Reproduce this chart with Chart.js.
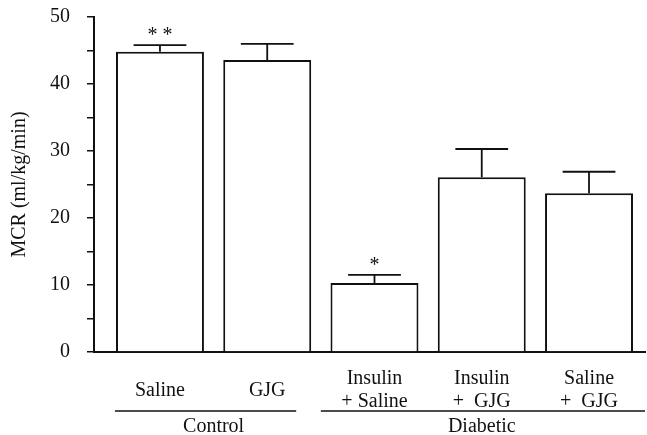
<!DOCTYPE html>
<html>
<head>
<meta charset="utf-8">
<script src="https://cdn.jsdelivr.net/npm/chart.js@4.4.0/dist/chart.umd.min.js"></script>
<style>
  html, body { margin: 0; padding: 0; background: #fff; }
</style>
</head>
<body>
<canvas id="mcrChart" width="647" height="435"></canvas>
<script>
// values
const labels = [['Saline'], ['GJG'], ['Insulin', '+ Saline'], ['Insulin', '+  GJG'], ['Saline', '+  GJG']];
const mcr = [44.8, 43.6, 10.3, 26.1, 23.7];
const sem = [1.0, 2.4, 1.2, 4.2, 3.2];
const marks = ['* *', '', '*', '', ''];
const groups = ['Control', 'Diabetic'];
const groupRanges = [[0, 1], [2, 4]];
const yLabels = [0, 10, 20, 30, 40, 50];

const ink = '#111';
const serif = '"Liberation Serif", "Times New Roman", serif';
Chart.defaults.font.family = serif;
Chart.defaults.font.size = 20;
Chart.defaults.color = ink;

const errorBars = {
  id: 'errorBars',
  afterDatasetsDraw(chart) {
    const { ctx, scales: { y } } = chart;
    const bars = chart.getDatasetMeta(0).data;
    ctx.save();
    ctx.strokeStyle = ink;
    ctx.fillStyle = ink;
    ctx.lineWidth = 1.8;
    ctx.font = '20px ' + serif;
    ctx.textAlign = 'center';
    ctx.textBaseline = 'alphabetic';
    bars.forEach((bar, i) => {
      const top = y.getPixelForValue(mcr[i] + sem[i]);
      const cap = bar.width * 0.3;
      ctx.beginPath();
      ctx.moveTo(bar.x, bar.y);
      ctx.lineTo(bar.x, top);
      ctx.moveTo(bar.x - cap, top);
      ctx.lineTo(bar.x + cap, top);
      ctx.stroke();
      if (marks[i]) ctx.fillText(marks[i], bar.x, top - 4);
    });
    ctx.restore();
  }
};

// group lines + names under the tick labels
const groupAxis = {
  id: 'groupAxis',
  afterDraw(chart) {
    const { ctx, scales: { x }, chartArea } = chart;
    const w = x.getPixelForValue(1) - x.getPixelForValue(0);
    const ext = [[-0.42, 0.27], [-0.5, 0.55]];
    ctx.save();
    ctx.strokeStyle = ink;
    ctx.fillStyle = ink;
    ctx.lineWidth = 1.5;
    ctx.font = '20px ' + serif;
    ctx.textAlign = 'center';
    ctx.textBaseline = 'middle';
    groups.forEach((name, g) => {
      const a = x.getPixelForValue(groupRanges[g][0]);
      const b = x.getPixelForValue(groupRanges[g][1]);
      const x0 = a + ext[g][0] * w;
      const x1 = Math.min(b + ext[g][1] * w, chartArea.right);
      ctx.beginPath();
      ctx.moveTo(x0, 411);
      ctx.lineTo(x1, 411);
      ctx.stroke();
      ctx.fillText(name, (a + b) / 2, 427);
    });
    ctx.restore();
  }
};

new Chart(document.getElementById('mcrChart'), {
  type: 'bar',
  data: {
    datasets: [{
      data: mcr.map((v, i) => ({ x: i, y: v })),
      backgroundColor: '#fff',
      borderColor: ink,
      borderWidth: 2,
      categoryPercentage: 1,
      barPercentage: 0.82
    }]
  },
  options: {
    responsive: false,
    animation: false,
    layout: { padding: { top: 17, right: 2, left: 0, bottom: 0 } },
    plugins: { legend: { display: false }, tooltip: { enabled: false } },
    scales: {
      x: {
        type: 'linear',
        offset: false,
        min: -0.615,
        max: 4.522,
        afterBuildTicks: axis => { axis.ticks = labels.map((_, i) => ({ value: i })); },
        afterFit: axis => { axis.height = 83; },
        grid: { display: false, drawTicks: false, tickLength: 0, offset: false },
        border: { color: ink, width: 2 },
        ticks: {
          autoSkip: false,
          maxRotation: 0,
          padding: 27,
          crossAlign: 'center',
          font: { size: 20, lineHeight: 1.15 },
          callback: v => labels[Math.round(v)] || ''
        }
      },
      y: {
        min: 0,
        max: 50,
        afterFit: axis => { axis.width = 94; axis.paddingTop = 0; axis.paddingBottom = 0; },
        grid: { drawOnChartArea: false, drawTicks: true, tickLength: 7, color: ink, lineWidth: 1.5 },
        border: { color: ink, width: 2 },
        ticks: {
          stepSize: 5,
          padding: 17,
          callback: v => yLabels.includes(v) ? String(v) : ''
        },
        title: {
          display: true,
          text: 'MCR (ml/kg/min)',
          font: { size: 20 },
          padding: { top: 8, bottom: 0 }
        }
      }
    }
  },
  plugins: [errorBars, groupAxis]
});
</script>
</body>
</html>
